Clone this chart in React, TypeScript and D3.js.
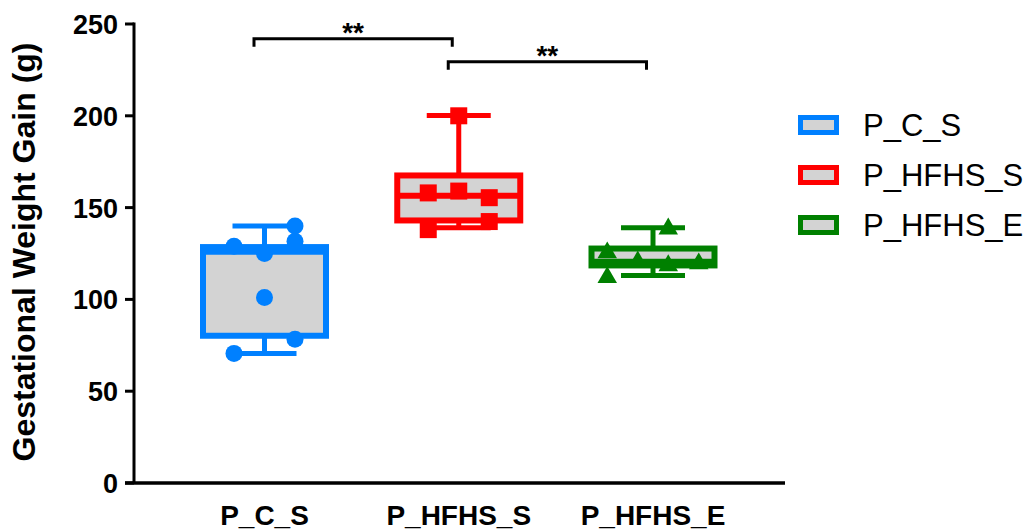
import React from "react";
import * as d3 from "d3";

const categories = ["P_C_S", "P_HFHS_S", "P_HFHS_E"];
const colors = ["#0080ff", "#ff0000", "#008000"];
const shapes = ["circle", "square", "triangle"];

// box statistics: [min, q1, median, q3, max]
const boxStats = [
  [70.5, 80.2, 126, 128.5, 140],
  [139, 143, 156.4, 167.5, 200.2],
  [113, 118.5, 120.5, 127.7, 139],
];

// individual points
const pointsCS = [140, 129, 125, 131.7, 101, 78.3, 70.6];
const pointsHS = [200, 158, 159, 155.4, 142.4, 138];
const pointsHE = [139, 126, 112.5, 121, 119, 120];
const groupPoints = [pointsCS, pointsHS, pointsHE];
// scatter column slot of each point (horizontal arrangement)
const slotsCS = [1, -1, 0, 1, 0, 1, -1];
const slotsHS = [0, -1, 0, 1, 1, -1];
const slotsHE = [0.5, -1.5, -1.5, -0.5, 0.5, 1.5];
const groupSlots = [slotsCS, slotsHS, slotsHE];

const yTicks = [0, 50, 100, 150, 200, 250];
const brackets = [
  { from: 0, to: 1, y: 242, label: "**" },
  { from: 1, to: 2, y: 229.5, label: "**" },
];

const FONT = "'Liberation Sans', Arial, Helvetica, sans-serif";

export default function App() {
  const W = 1029;
  const H = 532;
  const x0 = 134;
  const x1 = 785;
  const y = d3.scaleLinear().domain([0, 250]).range([483, 24]);
  const x = d3.scalePoint<string>().domain(categories).range([264.5, 653]);
  const boxW = 123;
  const capW = 64;
  const slotW = 30.5;
  const sym = d3.symbol();

  const marker = (shape: string, cx: number, cy: number, color: string, key: string) => {
    if (shape === "circle") return <circle key={key} cx={cx} cy={cy} r={8.5} fill={color} />;
    if (shape === "square")
      return <rect key={key} x={cx - 8.5} y={cy - 8.5} width={17} height={17} fill={color} />;
    const d = sym.type(d3.symbolTriangle).size(165)() as string;
    return <path key={key} d={d} transform={`translate(${cx},${cy + 1})`} fill={color} />;
  };

  return (
    <svg
      width={W}
      height={H}
      style={{ position: "absolute", left: 0, top: 0, background: "#fff" }}
      fontFamily={FONT}
    >
      {/* boxes */}
      {categories.map((c, i) => {
        const [mn, q1, med, q3, mx] = boxStats[i];
        const cx = x(c)!;
        const col = colors[i];
        return (
          <g key={c}>
            <line x1={cx} x2={cx} y1={y(mx)} y2={y(q3)} stroke={col} strokeWidth={5} />
            <line x1={cx} x2={cx} y1={y(q1)} y2={y(mn)} stroke={col} strokeWidth={5} />
            <line x1={cx - capW / 2} x2={cx + capW / 2} y1={y(mx)} y2={y(mx)} stroke={col} strokeWidth={5} />
            <line x1={cx - capW / 2} x2={cx + capW / 2} y1={y(mn)} y2={y(mn)} stroke={col} strokeWidth={5} />
            <rect
              x={cx - boxW / 2}
              y={y(q3)}
              width={boxW}
              height={y(q1) - y(q3)}
              fill="#d3d3d3"
              stroke={col}
              strokeWidth={6}
            />
            <line x1={cx - boxW / 2} x2={cx + boxW / 2} y1={y(med)} y2={y(med)} stroke={col} strokeWidth={6} />
            {groupPoints[i].map((v, j) =>
              marker(shapes[i], cx + groupSlots[i][j] * slotW, y(v), col, `${c}-${j}`)
            )}
          </g>
        );
      })}

      {/* y axis */}
      <line x1={x0} x2={x0} y1={y(250) - 1.5} y2={y(0)} stroke="#000" strokeWidth={3} />
      {yTicks.map((t) => (
        <g key={t}>
          <line x1={x0 - 9} x2={x0} y1={y(t)} y2={y(t)} stroke="#000" strokeWidth={3} />
          <text x={118} y={y(t) + 10} textAnchor="end" fontSize={27} fontWeight="bold" fill="#000">
            {t}
          </text>
        </g>
      ))}
      {/* x axis */}
      <line x1={x0 - 9} x2={x1} y1={y(0)} y2={y(0)} stroke="#000" strokeWidth={3.5} />
      {categories.map((c) => (
        <text key={c} x={x(c)!} y={525} textAnchor="middle" fontSize={28} fontWeight="bold" fill="#000">
          {c}
        </text>
      ))}

      {/* y title */}
      <text
        transform={`translate(35,252) rotate(-90)`}
        textAnchor="middle"
        fontSize={32}
        fontWeight="bold"
        fill="#000"
      >
        Gestational Weight Gain (g)
      </text>

      {/* significance brackets */}
      {brackets.map((b, i) => {
        const xa = x(categories[b.from])! - 10.5;
        const xb = x(categories[b.to])! - 6.5;
        const by = y(b.y);
        return (
          <g key={i}>
            <path
              d={`M${xa},${by + 8}V${by}H${xb}V${by + 8}`}
              fill="none"
              stroke="#000"
              strokeWidth={3}
            />
            <text x={(xa + xb) / 2} y={by + 3} textAnchor="middle" fontSize={28} fontWeight="bold" fill="#000">
              {b.label}
            </text>
          </g>
        );
      })}

      {/* legend */}
      {categories.map((c, i) => (
        <g key={c} transform={`translate(0,${125 + i * 50})`}>
          <rect x={800.5} y={-7.5} width={36} height={15} fill="#d3d3d3" stroke={colors[i]} strokeWidth={5} />
          <text x={863} y={11} fontSize={31} fill="#000">
            {c}
          </text>
        </g>
      ))}
    </svg>
  );
}
